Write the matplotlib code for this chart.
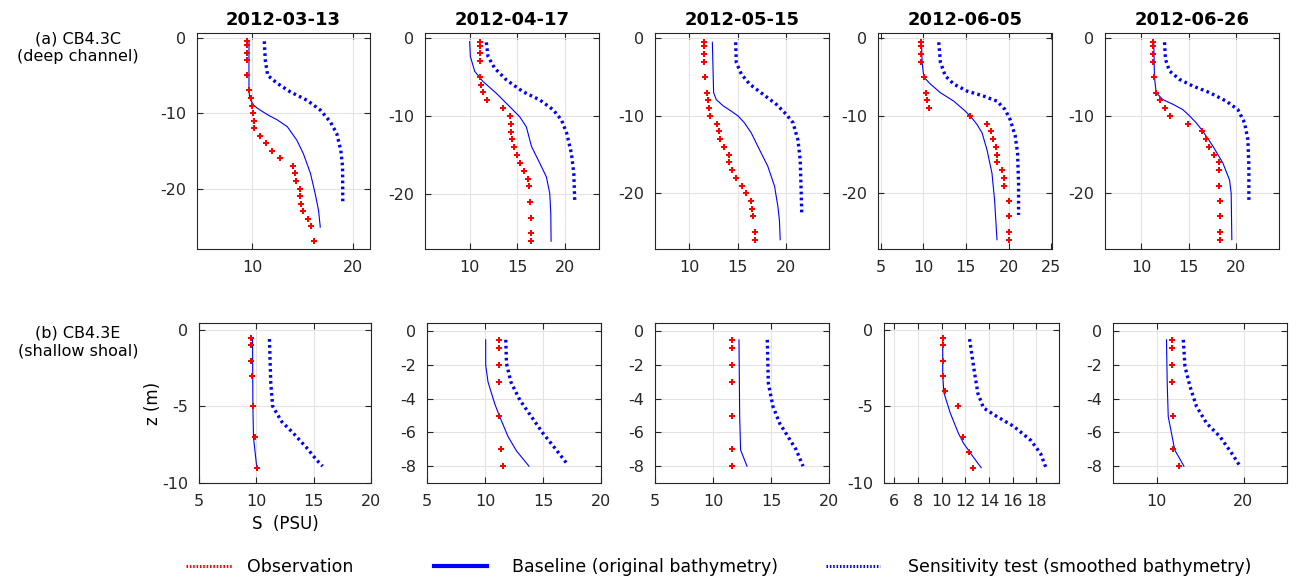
import matplotlib
matplotlib.use('Agg')
import matplotlib.pyplot as plt
from matplotlib.lines import Line2D

# Date dei profili
dates = ['2012-03-13', '2012-04-17', '2012-05-15', '2012-06-05', '2012-06-26']
row_labels = ['(a) CB4.3C\n(deep channel)', '(b) CB4.3E\n(shallow shoal)']

# ---- riga (a): CB4.3C, canale profondo ----
obs_a1_z = [-0.5, -1, -2, -3, -5, -7, -8, -9, -10, -11, -12, -13, -14, -15, -16, -17, -18, -19, -20, -21, -22, -23, -24, -25, -27]
obs_a1_s = [9.55, 9.55, 9.55, 9.55, 9.55, 9.75, 9.93, 10.03, 10.13, 10.2, 10.2, 10.8, 11.4, 12.0, 12.8, 14.05, 14.25, 14.4, 14.8, 14.8, 14.85, 15.1, 15.55, 15.85, 16.15]
base_a1_z = [-0.5, -7, -8, -9, -9.6, -10.3, -10.9, -11.8, -13.6, -15.4, -18, -20.7, -22.9, -25.1]
base_a1_s = [9.7, 9.7, 9.77, 10.17, 10.8, 11.65, 12.5, 13.5, 14.45, 15.1, 15.8, 16.27, 16.6, 16.77]
sens_a1_z = [-0.5, -3, -5, -6.06, -7.2, -8.3, -9.6, -11.15, -12.7, -14.9, -17.1, -21.9]
sens_a1_s = [11.22, 11.32, 11.55, 12.5, 13.8, 15.45, 16.77, 17.76, 18.4, 18.8, 18.98, 19.0]

obs_a2_z = [-0.5, -1, -2, -3, -5, -6, -7, -8, -9, -10, -11, -12, -13, -14, -15, -16, -17, -18, -19, -21, -23, -25, -26]
obs_a2_s = [11.05, 11.05, 11.05, 11.05, 11.1, 11.2, 11.45, 11.8, 13.55, 14.2, 14.3, 14.3, 14.4, 14.65, 15.0, 15.25, 15.7, 16.15, 16.2, 16.3, 16.4, 16.4, 16.5]
base_a2_z = [-0.5, -2.4, -4.3, -5.6, -7.1, -8.8, -10.1, -11.4, -13.9, -16.1, -17.8, -19.9, -22.5, -26]
base_a2_s = [10.0, 10.07, 10.53, 11.4, 12.8, 14.2, 15.26, 15.96, 16.5, 17.4, 18.07, 18.42, 18.53, 18.56]
sens_a2_z = [-0.6, -2.4, -3.9, -5.4, -6.9, -7.95, -9.2, -10.5, -12.2, -14.8, -17.35, -20.9]
sens_a2_s = [11.75, 11.93, 12.63, 13.86, 15.6, 17.37, 18.77, 19.65, 20.2, 20.7, 20.95, 21.05]

obs_a3_z = [-0.5, -1, -2, -3, -5, -7, -8, -9, -10, -11, -12, -13, -14, -15, -16, -17, -18, -19, -20, -21, -22, -23, -25, -26]
obs_a3_s = [11.5, 11.5, 11.5, 11.5, 11.6, 11.8, 12.0, 12.1, 12.15, 12.9, 13.1, 13.2, 13.6, 14.1, 14.15, 14.4, 14.8, 15.5, 15.9, 16.35, 16.45, 16.6, 16.8, 16.8]
base_a3_z = [-0.5, -7, -7.9, -8.7, -9.4, -10.0, -10.9, -12.2, -14.4, -16.5, -19.1, -21.7, -23.5, -26]
base_a3_s = [12.4, 12.53, 12.8, 13.5, 14.35, 15.03, 15.7, 16.4, 17.26, 18.1, 18.8, 19.14, 19.3, 19.38]
sens_a3_z = [-0.5, -3.1, -4.6, -5.9, -7.2, -8.5, -9.8, -10.9, -13.1, -15.7, -20, -22.8]
sens_a3_s = [14.8, 14.86, 15.38, 16.23, 17.6, 18.97, 20.0, 20.7, 21.2, 21.44, 21.54, 21.6]

obs_a4_z = [-0.5, -1, -2, -3, -5, -7, -8, -9, -10, -11, -12, -13, -14, -15, -16, -17, -18, -19, -21, -23, -25, -26]
obs_a4_s = [9.7, 9.7, 9.7, 9.75, 10.1, 10.3, 10.4, 10.65, 15.5, 17.5, 18.0, 18.15, 18.55, 18.65, 18.65, 19.25, 19.45, 19.5, 20.05, 20.05, 20.05, 20.05]
base_a4_z = [-0.5, -3.1, -5, -5.9, -7.0, -8.1, -9.4, -10.3, -11.1, -12.2, -14.4, -17.4, -20.9, -26]
base_a4_s = [9.8, 9.87, 10.07, 10.85, 12.0, 13.58, 14.94, 15.72, 16.3, 16.9, 17.48, 18.06, 18.37, 18.65]
sens_a4_z = [-0.5, -3.1, -4.85, -5.9, -6.8, -7.45, -8.1, -9.2, -10.5, -12.6, -14.8, -18.7, -22.8]
sens_a4_s = [11.82, 12.02, 12.6, 13.58, 15.14, 17.09, 18.65, 19.6, 20.2, 20.79, 21.06, 21.18, 21.18]

obs_a5_z = [-0.5, -1, -2, -3, -5, -7, -8, -9, -10, -11, -12, -13, -14, -15, -16, -17, -19, -21, -23, -25, -26]
obs_a5_s = [11.25, 11.25, 11.25, 11.25, 11.35, 11.6, 11.95, 12.55, 13.0, 14.95, 16.35, 16.85, 17.1, 17.7, 18.2, 18.2, 18.2, 18.25, 18.25, 18.25, 18.25]
base_a5_z = [-0.5, -5, -7, -7.9, -8.5, -9.2, -10, -10.9, -12, -13.9, -16.1, -18.3, -20, -26]
base_a5_s = [11.33, 11.4, 11.58, 12.28, 13.33, 14.39, 15.09, 15.79, 16.5, 17.54, 18.6, 19.3, 19.47, 19.54]
sens_a5_z = [-0.5, -2.7, -4.2, -5.3, -6.15, -7.0, -8.1, -9.2, -10.9, -13.1, -16.5, -21]
sens_a5_s = [12.46, 12.56, 12.98, 14.04, 15.44, 17.2, 18.95, 20.18, 20.88, 21.23, 21.33, 21.33]

# ---- riga (b): CB4.3E, secca poco profonda ----
obs_b1_z = [-0.5, -1, -2, -3, -5, -7, -9]
obs_b1_s = [9.55, 9.55, 9.55, 9.6, 9.7, 9.9, 10.05]
base_b1_z = [-0.5, -5, -7, -9]
base_b1_s = [9.67, 9.7, 9.75, 10.04]
sens_b1_z = [-0.6, -3.5, -5.0, -6.0, -6.75, -7.7, -8.5, -8.9]
sens_b1_s = [11.14, 11.26, 11.43, 12.22, 13.23, 14.39, 15.26, 15.78]

obs_b2_z = [-0.5, -1, -2, -3, -5, -7, -8]
obs_b2_s = [11.2, 11.2, 11.2, 11.2, 11.2, 11.4, 11.55]
base_b2_z = [-0.5, -2, -3, -4.3, -5.06, -6.25, -7.1, -8]
base_b2_s = [10.06, 10.06, 10.26, 10.84, 11.27, 11.99, 12.72, 13.79]
sens_b2_z = [-0.5, -1.9, -3, -4.07, -5.06, -6.05, -6.94, -7.84]
sens_b2_s = [11.79, 11.85, 12.23, 13.0, 14.0, 15.0, 16.04, 17.05]

obs_b3_z = [-0.5, -1, -2, -3, -5, -7, -8]
obs_b3_s = [11.67, 11.67, 11.67, 11.67, 11.67, 11.67, 11.67]
base_b3_z = [-0.5, -5.06, -7.04, -8]
base_b3_s = [12.24, 12.3, 12.38, 12.93]
sens_b3_z = [-0.5, -3.08, -4.46, -5.46, -6.25, -7.04, -8]
sens_b3_s = [14.68, 14.77, 15.17, 15.75, 16.47, 17.18, 17.76]

obs_b4_z = [-0.5, -1, -2, -3, -4, -5, -7, -8, -9]
obs_b4_s = [10.15, 10.15, 10.15, 10.15, 10.3, 11.35, 11.8, 12.3, 12.65]
base_b4_z = [-0.5, -3, -4.1, -5.4, -6.75, -7.4, -8.17, -9]
base_b4_s = [10.1, 10.1, 10.2, 10.72, 11.42, 11.85, 12.55, 13.34]
sens_b4_z = [-0.6, -2.4, -4.14, -5.1, -5.66, -6.3, -7.2, -8.06, -9]
sens_b4_s = [12.36, 12.7, 13.06, 13.54, 14.67, 16.08, 17.5, 18.34, 18.8]

obs_b5_z = [-0.5, -1, -2, -3, -5, -7, -8]
obs_b5_s = [11.75, 11.75, 11.75, 11.75, 11.85, 11.95, 12.6]
base_b5_z = [-0.5, -3.08, -5.06, -7.04, -8]
base_b5_s = [11.15, 11.23, 11.35, 12.1, 13.15]
sens_b5_z = [-0.5, -2.08, -3.27, -4.46, -5.46, -6.25, -7.24, -8]
sens_b5_s = [13.08, 13.27, 13.85, 14.6, 15.77, 17.3, 18.65, 19.6]

# Limiti e tick degli assi
xlims_a = [(4.55, 21.7), (5.3, 23.6), (6.5, 24.4), (4.7, 25.1), (6.2, 24.5)]
xticks_a = [[10, 20], [10, 15, 20], [10, 15, 20], [5, 10, 15, 20, 25], [10, 15, 20]]
ylims_a = [(-28, 0.6), (-27, 0.6), (-27.2, 0.7), (-27.2, 0.7), (-27.2, 0.7)]
yticks_a = [-20, -10, 0]

xlims_b = [(5, 20), (5, 20), (5, 20), (5.15, 19.9), (5, 25)]
xticks_b = [[5, 10, 15, 20], [5, 10, 15, 20], [5, 10, 15, 20], [6, 8, 10, 12, 14, 16, 18], [10, 20]]
ylims_b = [(-10, 0.45), (-9, 0.5), (-9, 0.5), (-10, 0.45), (-9, 0.5)]
yticks_b = [[-10, -5, 0], [-8, -6, -4, -2, 0], [-8, -6, -4, -2, 0], [-10, -5, 0], [-8, -6, -4, -2, 0]]

rows = [
    [(obs_a1_s, obs_a1_z, base_a1_s, base_a1_z, sens_a1_s, sens_a1_z),
     (obs_a2_s, obs_a2_z, base_a2_s, base_a2_z, sens_a2_s, sens_a2_z),
     (obs_a3_s, obs_a3_z, base_a3_s, base_a3_z, sens_a3_s, sens_a3_z),
     (obs_a4_s, obs_a4_z, base_a4_s, base_a4_z, sens_a4_s, sens_a4_z),
     (obs_a5_s, obs_a5_z, base_a5_s, base_a5_z, sens_a5_s, sens_a5_z)],
    [(obs_b1_s, obs_b1_z, base_b1_s, base_b1_z, sens_b1_s, sens_b1_z),
     (obs_b2_s, obs_b2_z, base_b2_s, base_b2_z, sens_b2_s, sens_b2_z),
     (obs_b3_s, obs_b3_z, base_b3_s, base_b3_z, sens_b3_s, sens_b3_z),
     (obs_b4_s, obs_b4_z, base_b4_s, base_b4_z, sens_b4_s, sens_b4_z),
     (obs_b5_s, obs_b5_z, base_b5_s, base_b5_z, sens_b5_s, sens_b5_z)],
]

# Posizioni dei pannelli in pixel (sinistra, destra), (alto, basso)
W, H = 1296, 581
cols_px = [[(197, 370), (425, 599), (655, 829), (878, 1052), (1105, 1279)],
           [(199, 371), (427, 601), (655, 829), (884, 1059), (1113, 1287)]]
rows_px = [(33, 249), (323, 483)]

plt.rcParams['font.family'] = ['DejaVu Sans']
plt.rcParams['axes.unicode_minus'] = False
text_col = '#262626'

fig = plt.figure(figsize=(W / 100, H / 100), dpi=100)

for r in range(2):
    top, bot = rows_px[r]
    for c in range(5):
        left, right = cols_px[r][c]
        ax = fig.add_axes([left / W, 1 - bot / H, (right - left) / W, (bot - top) / H])
        os_, oz, bs, bz, ss, sz = rows[r][c]
        ax.plot(bs, bz, '-', color='#0000ff', lw=0.8, zorder=3)
        ax.plot(ss, sz, color='#0000ff', lw=2.4, linestyle=(0, (0.8, 1.0)), zorder=3)
        ax.plot(os_, oz, 'P', color='red', ms=5, mew=0, zorder=4)

        if r == 0:
            ax.set_xlim(*xlims_a[c])
            ax.set_xticks(xticks_a[c])
            ax.set_ylim(*ylims_a[c])
            ax.set_yticks(yticks_a)
            ax.set_title(dates[c], fontsize=13, fontweight='bold', pad=6)
        else:
            ax.set_xlim(*xlims_b[c])
            ax.set_xticks(xticks_b[c])
            ax.set_ylim(*ylims_b[c])
            ax.set_yticks(yticks_b[c])

        ax.grid(True, color='#e3e3e3', lw=0.8, zorder=0)
        ax.set_axisbelow(True)
        ax.tick_params(direction='in', length=4, width=0.8, top=True, right=True,
                       labelsize=11.5, colors=text_col, pad=8)
        for sp in ax.spines.values():
            sp.set_color(text_col)
            sp.set_linewidth(0.8)

        if r == 1 and c == 0:
            ax.set_xlabel('S  (PSU)', fontsize=12, color='black', labelpad=4)
            ax.set_ylabel('z (m)', fontsize=12, color='black', labelpad=0)

# Etichette di riga
fig.text(78 / W, 1 - 48 / H, row_labels[0], ha='center', va='center', fontsize=11.5, linespacing=1.25)
fig.text(78 / W, 1 - 342 / H, row_labels[1], ha='center', va='center', fontsize=11.5, linespacing=1.25)

# Legenda: tre voci separate, ognuna nella sua posizione
handles = [Line2D([], [], color='red', lw=2.2, linestyle=(0, (0.5, 0.6))),
           Line2D([], [], color='#0000ff', lw=3),
           Line2D([], [], color='#0000ff', lw=2.2, linestyle=(0, (0.5, 0.6)))]
labels = ['Observation', 'Baseline (original bathymetry)', 'Sensitivity test (smoothed bathymetry)']
leg_x = [186, 434, 826]
leg_len = [2.65, 3.05, 3.1]
leg_pad = [0.86, 1.44, 1.6]
for h, lab, lx, ll, lp in zip(handles, labels, leg_x, leg_len, leg_pad):
    fig.legend([h], [lab], loc='center left', bbox_to_anchor=(lx / W, 1 - 567 / H),
               frameon=False, fontsize=12.5, handlelength=ll, handletextpad=lp,
               borderpad=0, borderaxespad=0)

fig.savefig('out.png', dpi=100)
